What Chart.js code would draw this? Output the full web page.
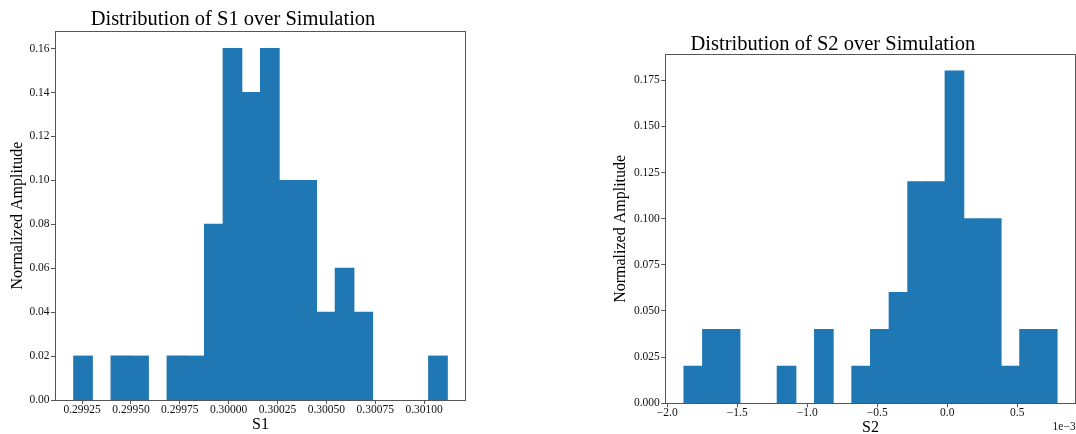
<!DOCTYPE html>
<html>
<head>
<meta charset="utf-8">
<script src="https://cdn.jsdelivr.net/npm/chart.js@4/dist/chart.umd.min.js"></script>
<style>
  html, body { margin: 0; padding: 0; background: #fff; overflow: hidden; width: 1076px; height: 434px; }
  canvas { position: absolute; top: 0; }
  #chartS1 { left: 0; }
  #chartS2 { left: 590px; }
</style>
</head>
<body>
<canvas id="chartS1" width="480" height="434"></canvas>
<canvas id="chartS2" width="490" height="434"></canvas>
<script>
// ---- S1 histogram (20 bins, weights normalised to sum 1) ----
const s1BinEdges = [
  0.299207, 0.2993026, 0.2993982, 0.2994938, 0.2995894, 0.299685, 0.2997806,
  0.2998762, 0.2999718, 0.3000674, 0.300163, 0.3002586, 0.3003542, 0.3004498,
  0.3005454, 0.300641, 0.3007366, 0.3008322, 0.3009278, 0.3010234, 0.301119
];
const s1Amplitude = [
  0.02, 0, 0.02, 0.02, 0, 0.02, 0.02, 0.08, 0.16, 0.14,
  0.16, 0.10, 0.10, 0.04, 0.06, 0.04, 0, 0, 0, 0.02
];
const s1XTicks = [0.29925, 0.2995, 0.29975, 0.3, 0.30025, 0.3005, 0.30075, 0.301];
const s1XTickLabels = ['0.29925', '0.29950', '0.29975', '0.30000', '0.30025', '0.30050', '0.30075', '0.30100'];
const s1YTicks = [0, 0.02, 0.04, 0.06, 0.08, 0.10, 0.12, 0.14, 0.16];
const s1YTickLabels = ['0.00', '0.02', '0.04', '0.06', '0.08', '0.10', '0.12', '0.14', '0.16'];

// ---- S2 histogram (20 bins, weights normalised to sum 1) ----
const s2BinEdges = [
  -0.001881, -0.0017478, -0.0016145, -0.0014813, -0.001348, -0.0012148, -0.0010815,
  -0.0009483, -0.000815, -0.0006818, -0.0005485, -0.0004153, -0.000282, -0.0001488,
  -0.0000155, 0.0001178, 0.000251, 0.0003843, 0.0005175, 0.0006508, 0.000784
];
const s2Amplitude = [
  0.02, 0.04, 0.04, 0, 0, 0.02, 0, 0.04, 0, 0.02,
  0.04, 0.06, 0.12, 0.12, 0.18, 0.10, 0.10, 0.02, 0.04, 0.04
];
const s2XTicks = [-0.002, -0.0015, -0.001, -0.0005, 0, 0.0005];
const s2XTickLabels = ['\u22122.0', '\u22121.5', '\u22121.0', '\u22120.5', '0.0', '0.5'];
const s2YTicks = [0, 0.025, 0.05, 0.075, 0.1, 0.125, 0.15, 0.175];
const s2YTickLabels = ['0.000', '0.025', '0.050', '0.075', '0.100', '0.125', '0.150', '0.175'];

const SERIF = "'Liberation Serif', 'Times New Roman', serif";
const BAR_BLUE = '#1f77b4';
const SPINE = '#555';

// Box drawn around the plotting area, plus an optional offset label (e.g. "1e-3")
const framePlugin = {
  id: 'frame',
  afterDraw(chart, args, opts) {
    const { ctx, chartArea: a } = chart;
    ctx.save();
    ctx.strokeStyle = SPINE;
    ctx.lineWidth = 1;
    const l = Math.round(a.left) + 0.5, t = Math.round(a.top) + 0.5;
    const r = Math.round(a.right) - 0.5, b = Math.round(a.bottom) + 0.5;
    ctx.strokeRect(l, t, r - l, b - t);
    if (opts.offsetText) {
      ctx.fillStyle = '#111';
      ctx.font = '11.5px ' + SERIF;
      ctx.textAlign = 'right';
      ctx.textBaseline = 'alphabetic';
      ctx.fillText(opts.offsetText, a.right, 430);
    }
    ctx.restore();
  }
};

function histogram(canvasId, cfg) {
  const edges = cfg.edges;
  const bins = cfg.heights.map((h, i) => ({ x: (edges[i] + edges[i + 1]) / 2, y: h }));
  const span = edges[edges.length - 1] - edges[0];
  const xMin = edges[0] - 0.05 * span;
  const xMax = edges[edges.length - 1] + 0.05 * span;
  const yMax = Math.max(...cfg.heights) * 1.05;

  const tickFont = { family: SERIF, size: 11.5, lineHeight: 1 };
  const gridOpts = { display: true, drawOnChartArea: false, drawTicks: true, tickLength: 4, color: SPINE, lineWidth: 1, offset: false };

  return new Chart(document.getElementById(canvasId), {
    type: 'bar',
    data: {
      datasets: [{
        data: bins,
        backgroundColor: BAR_BLUE,
        borderWidth: 0,
        barPercentage: 1,
        categoryPercentage: 1,
        inflateAmount: (c) => (c.raw && c.raw.y > 0 ? 0.5 : 0)
      }]
    },
    options: {
      responsive: false,
      animation: false,
      events: [],
      layout: { padding: cfg.padding },
      plugins: {
        legend: { display: false },
        tooltip: { enabled: false },
        title: {
          display: true,
          text: cfg.title,
          color: '#000',
          font: { family: SERIF, size: 20.5, weight: 'normal', lineHeight: 0.9 },
          padding: cfg.titlePadding
        },
        frame: { offsetText: cfg.offsetText || '' }
      },
      scales: {
        x: {
          type: 'linear',
          min: xMin,
          max: xMax,
          offset: false,
          afterBuildTicks: (s) => { s.ticks = cfg.xTicks.map((v) => ({ value: v })); },
          afterFit: (s) => { s.height = cfg.xAxisHeight; },
          grid: gridOpts,
          border: { display: false },
          ticks: {
            callback: (v, i) => cfg.xTickLabels[i],
            font: tickFont,
            color: '#111',
            padding: 0,
            maxRotation: 0,
            autoSkip: false
          },
          title: {
            display: true,
            text: cfg.xLabel,
            color: '#000',
            font: { family: SERIF, size: 16, lineHeight: 0.8 },
            padding: { top: 0, bottom: cfg.xTitlePadBottom }
          }
        },
        y: {
          type: 'linear',
          min: 0,
          max: yMax,
          afterBuildTicks: (s) => { s.ticks = cfg.yTicks.map((v) => ({ value: v })); },
          afterFit: (s) => { s.width = cfg.yAxisWidth; },
          grid: gridOpts,
          border: { display: false },
          ticks: {
            callback: (v, i) => cfg.yTickLabels[i],
            font: tickFont,
            color: '#111',
            padding: 1.5,
            autoSkip: false
          },
          title: {
            display: true,
            text: 'Normalized Amplitude',
            color: '#000',
            font: { family: SERIF, size: 16, lineHeight: 1.2 },
            padding: { top: cfg.yTitlePadTop, bottom: 0 }
          }
        }
      }
    },
    plugins: [framePlugin]
  });
}

histogram('chartS1', {
  edges: s1BinEdges,
  heights: s1Amplitude,
  xTicks: s1XTicks,
  xTickLabels: s1XTickLabels,
  yTicks: s1YTicks,
  yTickLabels: s1YTickLabels,
  title: 'Distribution of S1 over Simulation',
  xLabel: 'S1',
  padding: { left: 0, top: 0, right: 14, bottom: 0 },
  titlePadding: { top: 10.6, bottom: 2 },
  xAxisHeight: 34,
  yAxisWidth: 55,
  xTitlePadBottom: 3,
  yTitlePadTop: 8.3
});

histogram('chartS2', {
  edges: s2BinEdges,
  heights: s2Amplitude,
  xTicks: s2XTicks,
  xTickLabels: s2XTickLabels,
  yTicks: s2YTicks,
  yTickLabels: s2YTickLabels,
  title: 'Distribution of S2 over Simulation',
  xLabel: 'S2',
  offsetText: '1e\u22123',
  padding: { left: 0, top: 27.6, right: 4.3, bottom: 0 },
  titlePadding: { top: 8, bottom: 0.3 },
  xAxisHeight: 30.7,
  yAxisWidth: 75.3,
  xTitlePadBottom: 0.3,
  yTitlePadTop: 20.7
});
</script>
</body>
</html>
